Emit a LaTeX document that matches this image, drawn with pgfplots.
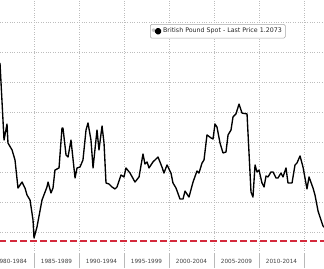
\documentclass[border=0pt]{standalone}
\usepackage{fontspec}
\setmainfont{DejaVu Sans}
\usepackage{pgfplots}
\pgfplotsset{compat=1.18}
\definecolor{gridgray}{HTML}{BDBDBD}
\definecolor{bbred}{HTML}{D42A3C}
\begin{document}
\begin{tikzpicture}
\path[use as bounding box] (0,0) rectangle (324pt,268pt);
\begin{axis}[
  at={(0pt,15pt)}, anchor=south west,
  scale only axis, width=324pt, height=253pt,
  xmin=1981.222, xmax=2017.222, ymin=1.06, ymax=2.7467,
  axis line style={draw=none},
  xtick={1985,1990,1995,2000,2005,2010,2015}, xticklabels={},
  ytick={1.2,1.4,1.6,1.8,2.0,2.2,2.4,2.6}, yticklabels={},
  grid=major, major grid style={gridgray, dotted, line width=0.7pt},
  tick align=outside, major tick length=15pt,
  x tick style={draw=gray!55, line width=0.5pt},
  y tick style={draw=none},
  extra x ticks={1982.5,1987.5,1992.5,1997.5,2002.5,2007.5,2012.5,2017.5},
  extra x tick labels={1980-1984,1985-1989,1990-1994,1995-1999,2000-2004,2005-2009,2010-2014,2015-2019},
  extra x tick style={grid=none, major tick length=0pt, x tick style={draw=none},
     xticklabel style={anchor=base, yshift=-10pt}},
  ticklabel style={font=\fontsize{5.7}{6}\selectfont, text=black!75},
  legend style={at={(rel axis cs:0.463,0.905)}, anchor=north west, draw=gray!70,
     rounded corners=1.5pt, font=\fontsize{6.3}{7}\selectfont, inner xsep=1.5pt, inner ysep=1.8pt,
     line width=0.5pt, text=black!85},
  legend image code/.code={\fill[gray!45] (-1pt,0pt) rectangle (1.2pt,2.2pt); \fill[black] (2.2pt,-2.4pt) rectangle (7pt,2.4pt);},
  legend cell align=left,
  clip=true,
]
\addplot[bbred, line width=2pt, dash pattern=on 6.5pt off 3.5pt, forget plot] coordinates {(1981.222,1.142) (2017.222,1.142)};
\addplot[black, line width=1.35pt, line join=round] coordinates {
(1981.22,2.327) (1981.67,1.813) (1982.00,1.920) (1982.11,1.793) (1982.56,1.747) (1982.89,1.680)
(1983.22,1.493) (1983.67,1.533) (1984.00,1.493) (1984.22,1.447) (1984.56,1.413) (1984.89,1.280)
(1985.00,1.160) (1985.33,1.233) (1985.89,1.413) (1986.44,1.500) (1986.56,1.533) (1986.89,1.460)
(1987.11,1.493) (1987.33,1.613) (1987.78,1.627) (1988.11,1.893) (1988.22,1.893) (1988.56,1.713)
(1988.78,1.700) (1989.11,1.813) (1989.56,1.560) (1989.78,1.627) (1990.11,1.633) (1990.44,1.680)
(1990.78,1.880) (1991.00,1.927) (1991.33,1.813) (1991.56,1.627) (1992.00,1.880) (1992.22,1.747)
(1992.56,1.907) (1992.78,1.793) (1993.00,1.527) (1993.33,1.520) (1993.67,1.500) (1994.00,1.487)
(1994.22,1.500) (1994.67,1.580) (1995.00,1.567) (1995.22,1.627) (1995.67,1.593) (1996.22,1.533)
(1996.67,1.567) (1997.11,1.720) (1997.33,1.653) (1997.56,1.667) (1997.78,1.627) (1998.22,1.667)
(1998.44,1.680) (1998.78,1.700) (1999.22,1.633) (1999.44,1.593) (1999.78,1.647) (2000.22,1.593)
(2000.44,1.527) (2000.78,1.493) (2001.22,1.420) (2001.56,1.420) (2001.78,1.473) (2002.22,1.433)
(2002.67,1.533) (2003.11,1.607) (2003.33,1.593) (2003.67,1.660) (2003.89,1.680) (2004.22,1.847)
(2004.67,1.827) (2004.89,1.820) (2005.11,1.920) (2005.33,1.900) (2005.67,1.793) (2006.00,1.727)
(2006.33,1.733) (2006.56,1.847) (2006.89,1.880) (2007.11,1.967) (2007.44,1.987) (2007.78,2.053)
(2008.11,1.993) (2008.67,1.987) (2009.11,1.467) (2009.33,1.433) (2009.56,1.647) (2009.78,1.600)
(2010.00,1.613) (2010.33,1.527) (2010.56,1.500) (2010.78,1.573) (2011.00,1.567) (2011.33,1.600)
(2011.56,1.600) (2011.89,1.560) (2012.11,1.560) (2012.44,1.593) (2012.67,1.567) (2013.00,1.627)
(2013.22,1.527) (2013.67,1.527) (2014.00,1.647) (2014.22,1.660) (2014.56,1.707) (2014.89,1.633)
(2015.33,1.487) (2015.56,1.567) (2016.00,1.493) (2016.22,1.447) (2016.56,1.340) (2017.11,1.240)
(2017.22,1.233)
};
\addlegendentry{British Pound Spot - Last Price 1.2073}
\end{axis}
\end{tikzpicture}
\end{document}
